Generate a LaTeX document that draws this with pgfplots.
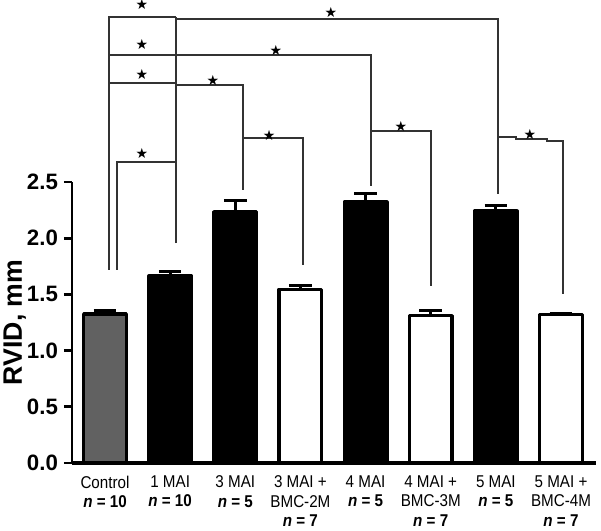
\documentclass[border=0pt]{standalone}
\usepackage{fontspec}
\setmainfont{Liberation Sans}
\newfontfamily\narrowfont[FakeStretch=0.89]{Liberation Sans}
\newfontfamily\symfont{DejaVu Sans}
\usepackage{pgfplots}
\pgfplotsset{compat=1.18}
\tikzset{bk/.style={line width=1.1pt, draw=black!80, line join=miter},
  sig/.style={font=\symfont\fontsize{10.5}{11}\selectfont, inner sep=0pt, text=black}}
\begin{document}
\begin{tikzpicture}
\begin{axis}[
  scale only axis, width=393pt, height=210.75pt,
  xmin=-0.507, xmax=7.537, ymin=0, ymax=2.5,
  axis x line*=bottom, axis y line*=left,
  x axis line style={line width=3pt, -},
  y axis line style={line width=2.2pt, -},
  clip=false,
  xtick={0,...,7},
  xticklabels={{Control\\\textbf{\textit{n} = 10}},
    {1 MAI\\\textbf{\textit{n} = 10}},
    {3 MAI\\\textbf{\textit{n} = 5}},
    {3 MAI +\\BMC-2M\\\textbf{\textit{n} = 7}},
    {4 MAI\\\textbf{\textit{n} = 5}},
    {4 MAI +\\BMC-3M\\\textbf{\textit{n} = 7}},
    {5 MAI\\\textbf{\textit{n} = 5}},
    {5 MAI +\\BMC-4M\\\textbf{\textit{n} = 7}}},
  xticklabel style={align=center, anchor=north, yshift=0pt,
    font=\narrowfont\fontsize{12.8}{14.6}\selectfont},
  x tick style={draw=none},
  ytick={0,0.5,...,2.5},
  tick align=outside, major tick length=6pt,
  y tick style={line width=2pt, black},
  yticklabel style={font=\bfseries\fontsize{16.7}{17}\selectfont, xshift=-1pt,
    /pgf/number format/.cd, fixed, fixed zerofill, precision=1, assume math mode=true},
  ylabel={RVID, mm},
  ylabel style={font=\bfseries\fontsize{20}{20}\selectfont,
    at={(axis description cs:-0.109,0.5)}, anchor=center},
]
\addplot[ybar, bar shift=0pt, bar width=31.9pt, fill=black!62, draw=black,
  line width=2.6pt, line join=round,
  error bars/.cd, y dir=plus, y explicit,
  error bar style={line width=2.2pt, black},
  error mark options={rotate=90, line width=2.2pt, mark size=8.5pt, black}]
  coordinates {(0,1.325) +- (0,0.035)};
\addplot[ybar, bar shift=0pt, bar width=31.9pt, fill=black, draw=black,
  line width=2.6pt, line join=round,
  error bars/.cd, y dir=plus, y explicit,
  error bar style={line width=2.2pt, black},
  error mark options={rotate=90, line width=2.2pt, mark size=8.5pt, black}]
  coordinates {(1,1.664) +- (0,0.036) (2,2.236) +- (0,0.098)
               (4,2.32) +- (0,0.08) (6,2.24) +- (0,0.05)};
\addplot[ybar, bar shift=0pt, bar width=31.9pt, fill=white, draw=black,
  line width=2.6pt, line join=round,
  error bars/.cd, y dir=plus, y explicit,
  error bar style={line width=2.2pt, black},
  error mark options={rotate=90, line width=2.2pt, mark size=8.5pt, black}]
  coordinates {(3,1.545) +- (0,0.035) (5,1.31) +- (0,0.05) (7,1.32) +- (0,0.012)};
% significance brackets
\draw[bk] (axis cs:0.061,1.717) -- (axis cs:0.061,3.968) -- (axis cs:1.090,3.968);
\draw[bk] (axis cs:1.090,1.957) -- (axis cs:1.090,3.968);
\draw[bk] (axis cs:1.090,3.950) -- (axis cs:6.033,3.950) -- (axis cs:6.033,2.393);
\draw[bk] (axis cs:0.061,3.630) -- (axis cs:4.084,3.630) -- (axis cs:4.084,2.464);
\draw[bk] (axis cs:0.061,3.381) -- (axis cs:1.090,3.381);
\draw[bk] (axis cs:1.090,3.363) -- (axis cs:2.118,3.363) -- (axis cs:2.118,2.429);
\draw[bk] (axis cs:0.184,1.717) -- (axis cs:0.184,2.678) -- (axis cs:1.090,2.678);
\draw[bk] (axis cs:2.118,2.891) -- (axis cs:3.040,2.891) -- (axis cs:3.040,1.762);
\draw[bk] (axis cs:4.084,2.954) -- (axis cs:5.005,2.954) -- (axis cs:5.005,1.575);
\draw[bk] (axis cs:6.033,2.900) -- (axis cs:6.31,2.900) -- (axis cs:6.31,2.883)
  -- (axis cs:6.785,2.883) -- (axis cs:6.785,2.865) -- (axis cs:7.031,2.865)
  -- (axis cs:7.031,1.504);
\node[sig] at (axis cs:0.568,4.075) {★};
\node[sig] at (axis cs:0.568,3.719) {★};
\node[sig] at (axis cs:0.568,3.452) {★};
\node[sig] at (axis cs:0.568,2.758) {★};
\node[sig] at (axis cs:3.469,4.012) {★};
\node[sig] at (axis cs:2.625,3.674) {★};
\node[sig] at (axis cs:1.658,3.407) {★};
\node[sig] at (axis cs:2.518,2.918) {★};
\node[sig] at (axis cs:4.544,2.998) {★};
\node[sig] at (axis cs:6.524,2.927) {★};
\coordinate (bbsw) at (axis cs:-1.612,-0.605);
\coordinate (bbne) at (axis cs:7.614,4.119);
\end{axis}
\pgfresetboundingbox
\useasboundingbox (bbsw) rectangle (bbne);
\end{tikzpicture}
\end{document}
